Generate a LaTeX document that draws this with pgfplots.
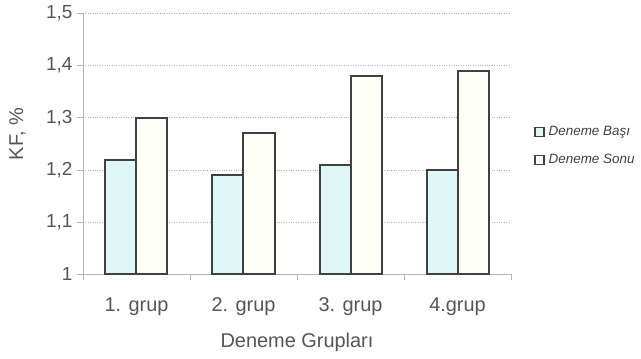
\documentclass[border=0pt]{standalone}
\usepackage{pgfplots}
\pgfplotsset{compat=1.18}
\usepackage{fontspec}
\setmainfont{Liberation Sans}
\definecolor{basi}{HTML}{DFF7F7}
\definecolor{sonu}{HTML}{FFFFF7}
\definecolor{edge}{HTML}{404040}
\definecolor{txt}{HTML}{555555}
\definecolor{axisgray}{HTML}{B4B4B4}
\begin{document}
\begin{tikzpicture}
\path[use as bounding box] (-83bp,-84.7bp) rectangle (558bp,274.3bp);
\begin{axis}[
  at={(0,0)}, anchor=south west,
  scale only axis, width=428bp, height=260.8bp,
  xmin=0.5, xmax=4.5, ymin=1, ymax=1.5,
  ybar=0pt, bar width=31bp,
  axis x line=bottom, axis y line=left,
  axis line style={axisgray, line width=0.8bp, -},
  xtick={0.5,1.5,2.5,3.5,4.5},
  x tick label as interval,
  xticklabels={1. grup, 2. grup, 3. grup, 4.grup},
  ytick={1,1.1,1.2,1.3,1.4,1.5},
  ymajorgrids,
  grid style={axisgray, dotted, line width=0.7bp},
  tick align=outside,
  major tick length=6bp,
  tick style={axisgray, line width=0.8bp},
  xticklabel style={font=\fontsize{20}{24}\selectfont, text=txt, anchor=north, yshift=-14bp},
  yticklabel style={font=\fontsize{19}{23}\selectfont, text=txt, anchor=east, xshift=-1bp,
    /pgf/number format/.cd, use comma, fixed, precision=1, assume math mode=true},
  xlabel={Deneme Grupları},
  ylabel={KF, \%},
  xlabel style={font=\fontsize{20}{24}\selectfont, text=txt, at={(axis description cs:0.5,-0.26)}, anchor=center},
  ylabel style={font=\fontsize{20}{24}\selectfont, text=txt, at={(axis description cs:-0.153,0.538)}, anchor=center},
  legend style={at={(axis description cs:1.054,0.492)}, anchor=west, draw=none, fill=none,
    font=\itshape\fontsize{13.5}{16}\selectfont, text=edge, row sep=13bp,
    /tikz/column sep=2bp, inner sep=0pt},
  legend cell align=left,
  legend image code/.code={\draw[#1, line width=1.3bp] (0bp,-4.5bp) rectangle (9bp,4.5bp);},
]
\addplot[draw=edge, line width=2bp, fill=basi] coordinates {(1,1.22) (2,1.19) (3,1.21) (4,1.20)};
\addplot[draw=edge, line width=2bp, fill=sonu] coordinates {(1,1.30) (2,1.27) (3,1.38) (4,1.39)};
\legend{Deneme Başı, Deneme Sonu}
\end{axis}
\end{tikzpicture}
\end{document}
